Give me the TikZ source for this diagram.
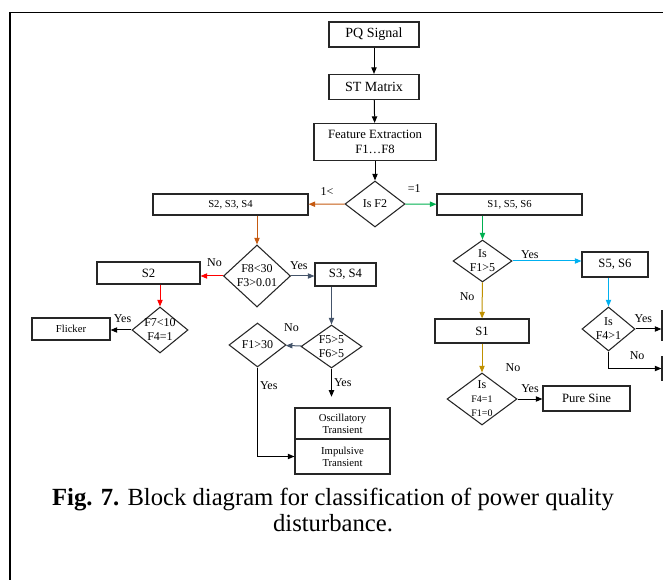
\documentclass[tikz,border=0pt]{standalone}
\usepackage{fontspec}
\setmainfont{Liberation Serif}
\usetikzlibrary{shapes.geometric,arrows.meta,positioning}
\definecolor{brorange}{HTML}{C55A11}
\definecolor{flowgreen}{HTML}{00B050}
\definecolor{slate}{HTML}{44546A}
\definecolor{skyblue}{HTML}{00B0F0}
\definecolor{gold}{HTML}{BF9000}
\begin{document}
\begin{tikzpicture}[x=0.75pt, y=-0.75pt,
    box/.style={draw=black!85, line width=0.8pt, rectangle, inner sep=0pt, align=center, font=\fontsize{9.5}{11}\selectfont},
    smallbox/.style={box, font=\fontsize{8}{9}\selectfont},
    decision/.style={draw=black!85, line width=0.8pt, diamond, aspect=1, inner sep=-3pt, align=center, font=\fontsize{9}{10.5}\selectfont},
    arr/.style={-{Triangle[length=5pt,width=4pt]}, line width=0.75pt},
    lbl/.style={font=\fontsize{9}{10}\selectfont, inner sep=1.5pt}]
        \useasboundingbox (0,0) rectangle (663,580);
        % Frame
        \draw[line width=1.9pt] (10,12.5) -- (10,580);
        \draw[line width=0.9pt] (10,12.5) -- (663,12.5);

        % Define nodes
        \node (pq) [box, minimum width=67.5pt, minimum height=18.75pt, font=\fontsize{10.5}{12}\selectfont] at (374,34.5) {PQ Signal};
        \node (st) [box, minimum width=67.5pt, minimum height=18.75pt, font=\fontsize{10.5}{12}\selectfont] at (374,87) {ST Matrix};
        \node (fe) [box, minimum width=91.5pt, minimum height=27.75pt] at (375,142) {Feature Extraction\\F1\ldots F8};
        \node (isf2) [decision, minimum width=45pt, minimum height=34.5pt] at (375,204) {Is F2};
        \node (s234) [smallbox, minimum width=116.25pt, minimum height=15.75pt] at (230.5,204.5) {S2, S3, S4};
        \node (s156) [smallbox, minimum width=108.75pt, minimum height=15.75pt] at (509.5,204.5) {S1, S5, S6};
        \node (f830) [decision, minimum width=50.25pt, minimum height=46.5pt] at (257,276) {F8<30\\F3>0.01};
        \node (s2) [box, minimum width=77.25pt, minimum height=16.5pt] at (148.5,273) {S2};
        \node (s34) [box, minimum width=45.75pt, minimum height=17.25pt] at (345.5,274.5) {S3, S4};
        \node (f710) [decision, minimum width=42pt, minimum height=34.5pt] at (160,330) {F7<10\\F4=1};
        \node (flicker) [smallbox, minimum width=58.5pt, minimum height=16.5pt] at (71,329) {Flicker};
        \node (f55) [decision, minimum width=45.75pt, minimum height=32.25pt] at (331.5,346.5) {F5>5\\F6>5};
        \node (f130) [decision, minimum width=42.75pt, minimum height=33pt] at (257.5,345) {F1>30};
        \node (osc) [smallbox, minimum width=71.25pt, minimum height=23.25pt] at (342.5,423.5) {Oscillatory\\Transient};
        \node (imp) [smallbox, minimum width=71.25pt, minimum height=26.25pt] at (342.5,456.5) {Impulsive\\Transient};
        \node (f15) [decision, minimum width=44.25pt, minimum height=31.5pt] at (482.5,261) {Is\\F1>5};
        \node (s56) [box, minimum width=49.5pt, minimum height=18.75pt] at (615,264.5) {S5, S6};
        \node (f41) [decision, minimum width=39.75pt, minimum height=33pt] at (608.5,329) {Is\\F4>1};
        \node (cutyes) [box, minimum width=55.5pt, minimum height=21.75pt] at (699,325.5) {};
        \node (cutno) [box, minimum width=55.5pt, minimum height=17.25pt] at (699,368.5) {};
        \node (s1) [box, minimum width=70.5pt, minimum height=18pt] at (482,331) {S1};
        \node (f4110) [decision, minimum width=52.5pt, minimum height=39pt] at (482,399) {Is\\{\fontsize{7.5}{9}\selectfont F4=1}\\{\fontsize{7.5}{9}\selectfont F1=0}};
        \node (puresine) [box, minimum width=65.25pt, minimum height=18.75pt] at (586.5,398.5) {Pure Sine};
        \node (nof4) [lbl] at (513,368) {No};
        \node (caption) [align=center, font=\fontsize{18.5}{20}\selectfont] at (333,510) {\textbf{Fig. 7.} Block diagram for classification of power quality\\disturbance.};

        % Draw arrows
        \draw[arr] (pq) -- (st);
        \draw[arr] (st) -- (fe);
        \draw[arr] (fe) -- (isf2);
        \draw[arr, draw=brorange] (isf2) -- (s234) node[lbl, pos=0, above left=4.5pt and 6.5pt] {1<};
        \draw[arr, draw=flowgreen] (isf2) -- (s156) node[lbl, pos=0, above right=6.5pt and 0pt] {=1};
        \draw[arr, draw=brorange] (f830 |- s234.south) -- (f830);
        \draw[arr, draw=red] (f830) -- (f830 -| s2.east) node[lbl, pos=0, above left=5.25pt and -1pt] {No};
        \draw[arr, draw=slate] (f830) -- (f830 -| s34.west) node[lbl, pos=0, above right=3pt and -2.5pt] {Yes};
        \draw[arr, draw=red] (f710 |- s2.south) -- (f710);
        \draw[arr] (f710) -- (f710 -| flicker.east) node[lbl, pos=0, above left=3.75pt and -1.7pt] {Yes};
        \draw[arr, draw=slate] (f55 |- s34.south) -- (f55);
        \draw[arr, draw=slate] (f55) -- (f130) node[lbl, pos=0, above left=8.5pt and 0pt] {No};
        \draw[arr, shorten >=8pt] (f55.south) -- (f55.south |- osc.north) node[lbl, pos=0.35, right] {Yes};
        \draw[arr] (f130.south) |- (imp.west) node[lbl, pos=0.1, right] {Yes};
        \draw[arr, draw=flowgreen] (f15 |- s156.south) -- (f15);
        \draw[arr, draw=skyblue] (f15) -- (f15 -| s56.west) node[lbl, pos=0.25, above] {Yes};
        \draw[arr, draw=gold] (f15) -- (s1) node[lbl, pos=0.4, left=4pt] {No};
        \draw[arr, draw=skyblue] (f41 |- s56.south) -- (f41);
        \draw[arr] (f41) -- (f41 -| cutyes.west) node[lbl, pos=0.3, above=3pt] {Yes};
        \draw[arr] (f41.south) |- (cutno.west) node[lbl, pos=0.77, above=5pt] {No};
        \draw[arr, draw=gold] (s1) -- (f4110);
        \draw[arr] (f4110) -- (f4110 -| puresine.west) node[lbl, midway, above=3pt] {Yes};
\end{tikzpicture}
\end{document}
